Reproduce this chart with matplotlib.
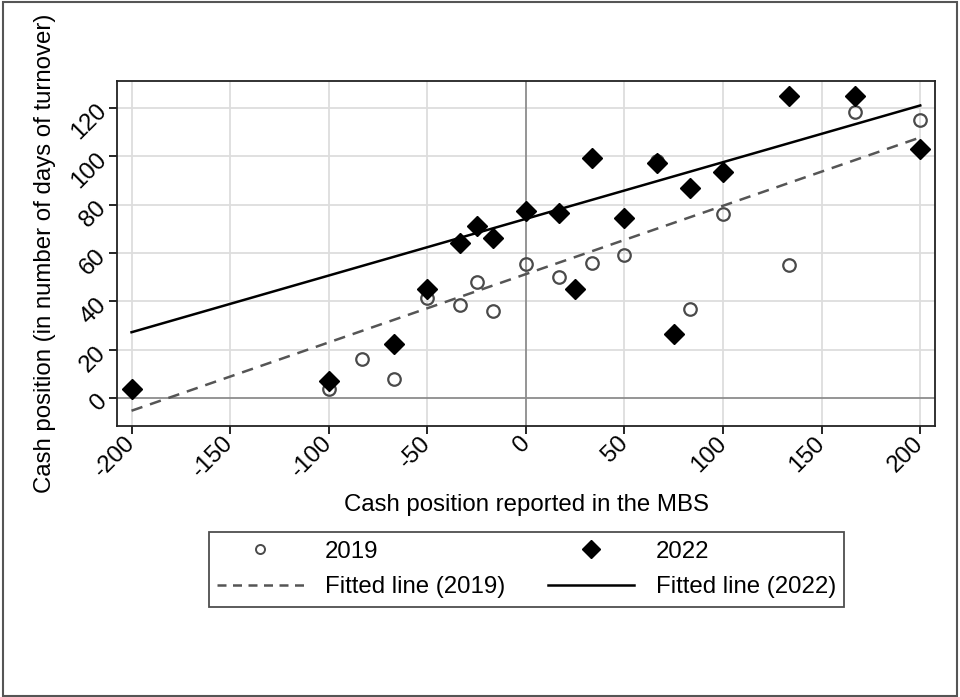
import matplotlib
matplotlib.use("Agg")
import matplotlib.pyplot as plt
from matplotlib.lines import Line2D
from matplotlib.patches import Rectangle

plt.rcParams['font.family'] = ['Liberation Sans', 'DejaVu Sans']

# --- data ---
x2019 = [-200, -100, -83.3, -66.7, -50, -33.3, -25, -16.7, 0, 16.7, 33.3, 50, 66.7, 83.3, 100, 133.3, 166.7, 200]
y2019 = [3.8, 3.8, 16.2, 7.8, 41.3, 38.4, 48.2, 36.1, 55.5, 50.1, 56.0, 59.2, 97.8, 37.0, 76.2, 55.0, 118.3, 114.7]

x2022 = [-200, -100, -66.7, -50, -33.3, -25, -16.7, 0, 16.7, 25, 33.3, 50, 66.7, 75, 83.3, 100, 133.3, 166.7, 200]
y2022 = [3.8, 7.1, 22.3, 45.2, 64.0, 71.2, 66.1, 77.4, 76.7, 45.2, 99.4, 74.6, 97.1, 26.6, 87.0, 93.6, 124.9, 124.9, 103.0]

fit_x = [-200, 200]
fit2019_y = [-5.1, 107.7]
fit2022_y = [27.3, 120.9]

xticks = [-200, -150, -100, -50, 0, 50, 100, 150, 200]
yticks = [0, 20, 40, 60, 80, 100, 120]

FS = 17.3
DASH = (0, (4.6, 3.2))

fig = plt.figure(figsize=(9.6, 6.97), dpi=100)
# outer frame
fig.patches.append(Rectangle((0.003, 0.002), 0.994, 0.995, transform=fig.transFigure,
                             fill=False, edgecolor='#555555', linewidth=1.5))

ax = fig.add_axes([0.1216, 0.3888, 0.8524, 0.495])
ax.set_xlim(-207.5, 207.5)
ax.set_ylim(-11.4, 131)

for v in xticks:
    if v != 0:
        ax.axvline(v, color='#dddddd', lw=1.3, zorder=0)
for v in yticks:
    if v != 0:
        ax.axhline(v, color='#dddddd', lw=1.3, zorder=0)
ax.axvline(0, color='#8c8c8c', lw=1.3, zorder=0.5)
ax.axhline(0, color='#8c8c8c', lw=1.3, zorder=0.5)

ax.plot(fit_x, fit2019_y, color='#555555', lw=1.8, linestyle=DASH, zorder=2)
ax.plot(fit_x, fit2022_y, color='black', lw=1.8, zorder=2)
ax.plot(x2019, y2019, linestyle='none', marker='o', markersize=9.0,
        markerfacecolor='none', markeredgecolor='#4a4a4a', markeredgewidth=1.6, zorder=3)
ax.plot(x2022, y2022, linestyle='none', marker='D', markersize=9.8,
        color='black', zorder=4)

ax.set_xticks(xticks)
ax.set_yticks(yticks)
ax.set_xticklabels([str(v) for v in xticks], rotation=45, ha='right', va='center',
                   rotation_mode='anchor', fontsize=FS)
ax.set_yticklabels([str(v) for v in yticks], rotation=45, ha='right', va='center',
                   rotation_mode='anchor', fontsize=FS)
ax.tick_params(direction='out', length=6, width=1.2, color='black', pad=4)
for s in ax.spines.values():
    s.set_linewidth(1.3)
    s.set_color('#222222')

fig.text(526 / 960, 1 - 505 / 697, 'Cash position reported in the MBS', ha='center',
         va='center', fontsize=FS)
fig.text(45 / 960, 1 - 253 / 697, 'Cash position (in number of days of turnover)',
         ha='center', va='center', rotation=90, fontsize=FS)

handles = [
    Line2D([], [], linestyle='none', marker='o', markersize=6.5, markerfacecolor='none',
           markeredgecolor='#4a4a4a', markeredgewidth=1.4),
    Line2D([], [], color='#555555', lw=1.8, linestyle=(0, (3.6, 2.6))),
    Line2D([], [], linestyle='none', marker='D', markersize=9.5, color='black'),
    Line2D([], [], color='black', lw=1.8),
]
labels = ['2019', 'Fitted line (2019)', '2022', 'Fitted line (2022)']
leg = fig.legend(handles, labels, ncol=2, loc='center',
                 bbox_to_anchor=(526.5 / 960, 1 - 569.5 / 697), fontsize=FS,
                 frameon=True, fancybox=False, handlelength=3.6, handletextpad=0.9,
                 columnspacing=1.75, borderpad=0.35, labelspacing=0.55)
leg.get_frame().set_edgecolor('#222222')
leg.get_frame().set_linewidth(1.3)

fig.savefig('out.png', dpi=100)
